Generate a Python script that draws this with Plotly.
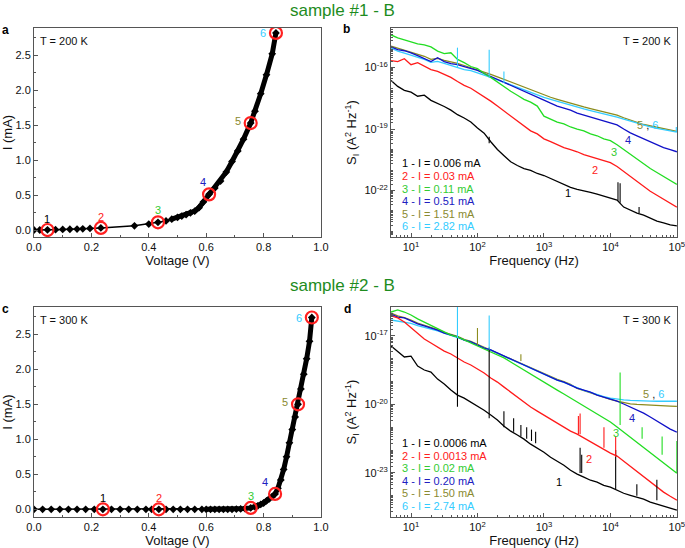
import plotly.graph_objects as go

# ---- I-V data (panel a / c) ----
IV_A_V = [0.0, 0.02, 0.047, 0.075, 0.1, 0.125, 0.15, 0.17, 0.195, 0.233,
          0.35, 0.4, 0.432, 0.46, 0.48, 0.5, 0.515, 0.53, 0.545, 0.56,
          0.575, 0.59, 0.61, 0.63, 0.65, 0.67, 0.69, 0.71, 0.73, 0.755,
          0.77, 0.79, 0.81, 0.83, 0.843]
IV_A_I = [0.0, 0.0, 0.002, 0.005, 0.008, 0.011, 0.014, 0.017, 0.022, 0.03,
          0.06, 0.085, 0.11, 0.13, 0.155, 0.18, 0.2, 0.22, 0.245, 0.27,
          0.32, 0.4, 0.51, 0.6, 0.7, 0.83, 0.98, 1.13, 1.3, 1.53,
          1.7, 1.95, 2.22, 2.52, 2.82]
HL_A_V = [0.047, 0.233, 0.432, 0.61, 0.755, 0.843]
HL_A_I = [0.0, 0.03, 0.11, 0.51, 1.53, 2.82]

IV_C_V = [0.0, 0.03, 0.06, 0.09, 0.12, 0.15, 0.18, 0.21, 0.24, 0.27,
          0.3, 0.33, 0.36, 0.39, 0.41, 0.435, 0.46, 0.485, 0.51, 0.535,
          0.56, 0.585, 0.6, 0.615, 0.63, 0.645, 0.66, 0.675, 0.69, 0.705,
          0.72, 0.735, 0.755, 0.77, 0.78, 0.79, 0.8, 0.81, 0.82, 0.83,
          0.84, 0.85, 0.86, 0.87, 0.88, 0.89, 0.9, 0.91, 0.92, 0.93,
          0.94, 0.95, 0.96, 0.968]
IV_C_I = [0.0, 0.0, 0.0, 0.0, 0.0, 0.0, 0.0, 0.0, 0.0, 0.0,
          0.0, 0.0, 0.0, 0.0, 0.0, 0.0, 0.0, 0.0, 0.0, 0.0,
          0.0, 0.0, 0.0, 0.0, 0.0, 0.0, 0.0, 0.0, 0.0, 0.003,
          0.006, 0.01, 0.02, 0.035, 0.05, 0.07, 0.09, 0.12, 0.15, 0.18,
          0.22, 0.3, 0.42, 0.57, 0.75, 0.95, 1.14, 1.32, 1.5, 1.72,
          1.93, 2.15, 2.4, 2.74]
HL_C_V = [0.24, 0.435, 0.755, 0.84, 0.92, 0.968]
HL_C_I = [0.0, 0.0, 0.02, 0.22, 1.5, 2.74]

# ---- noise spectra, log10(f) grid and log10(S_I) ----
F_LOG = [0.7, 0.8, 0.9, 1.0, 1.1, 1.2, 1.3, 1.4, 1.5, 1.6, 1.7, 1.8, 1.9, 2.0,
         2.1, 2.2, 2.3, 2.4, 2.5, 2.6, 2.7, 2.8, 2.9, 3.0, 3.1, 3.2, 3.3, 3.4,
         3.5, 3.6, 3.7, 3.8, 3.9, 4.0, 4.1, 4.2, 4.3, 4.4, 4.5, 4.6, 4.7, 4.8,
         4.9, 5.0]

B1 = [-16.63, -16.92, -17.11, -17.2, -17.4, -17.35, -17.6, -17.74, -17.9, -18.08,
      -18.3, -18.46, -18.66, -18.95, -19.2, -19.62, -20.0, -20.3, -20.6, -20.78,
      -20.93, -21.02, -21.17, -21.27, -21.41, -21.56, -21.7, -21.85, -21.94, -22.0,
      -22.09, -22.18, -22.28, -22.38, -22.47, -22.81, -22.96, -23.1, -23.2, -23.34,
      -23.49, -23.58, -23.68, -23.73]
B2 = [-15.66, -15.71, -15.57, -15.86, -15.76, -15.95, -16.1, -16.19, -16.34, -16.48,
      -16.68, -16.87, -17.01, -17.21, -17.4, -17.64, -17.88, -18.13, -18.37, -18.61,
      -18.85, -19.09, -19.24, -19.48, -19.62, -19.77, -19.91, -20.01, -20.11, -20.25,
      -20.35, -20.44, -20.54, -20.64, -20.83, -21.07, -21.31, -21.56, -21.8, -22.04,
      -22.23, -22.43, -22.62, -22.81]
B3 = [-14.41, -14.55, -14.65, -14.74, -14.84, -14.89, -14.99, -15.2, -15.32, -15.28,
      -15.6, -15.76, -15.95, -16.05, -16.29, -16.48, -16.72, -16.92, -17.16, -17.35,
      -17.55, -17.69, -17.88, -18.37, -18.51, -18.66, -18.75, -18.9, -19.0, -19.09,
      -19.24, -19.33, -19.48, -19.57, -19.77, -20.01, -20.25, -20.49, -20.69, -20.93,
      -21.12, -21.31, -21.51, -21.7]
B4 = [-14.99, -15.13, -15.18, -15.28, -15.42, -15.57, -15.71, -15.52, -15.71, -15.81,
      -15.86, -15.95, -16.05, -16.14, -16.29, -16.43, -16.58, -16.72, -16.87, -17.01,
      -17.16, -17.3, -17.45, -17.59, -17.74, -17.88, -17.98, -18.08, -18.22, -18.32,
      -18.42, -18.51, -18.61, -18.71, -18.8, -19.0, -19.19, -19.33, -19.48, -19.62,
      -19.77, -19.91, -20.01, -20.11]
B5 = [-14.95, -15.05, -15.15, -15.25, -15.35, -15.45, -15.6, -15.55, -15.65, -15.72,
      -15.8, -15.9, -16.0, -16.1, -16.2, -16.33, -16.45, -16.58, -16.7, -16.83,
      -16.95, -17.08, -17.2, -17.35, -17.45, -17.55, -17.65, -17.75, -17.83, -17.92,
      -18.0, -18.08, -18.15, -18.22, -18.32, -18.45, -18.58, -18.68, -18.78, -18.85,
      -18.92, -19.0, -19.05, -19.12]
B6 = [-15.05, -15.2, -15.3, -15.4, -15.5, -15.6, -15.75, -15.7, -15.8, -15.9,
      -16.0, -16.1, -16.15, -16.25, -16.35, -16.48, -16.6, -16.72, -16.85, -16.97,
      -17.1, -17.22, -17.35, -17.45, -17.55, -17.65, -17.75, -17.85, -17.93, -18.02,
      -18.1, -18.18, -18.25, -18.32, -18.42, -18.52, -18.62, -18.72, -18.82, -18.9,
      -18.97, -19.04, -19.1, -19.15]

D1 = [-17.44, -17.7, -17.92, -17.88, -18.32, -18.49, -18.58, -18.89, -19.1, -19.37,
      -19.59, -19.72, -19.89, -20.07, -20.25, -20.46, -20.68, -20.95, -21.17, -21.34,
      -21.52, -21.74, -21.91, -22.09, -22.31, -22.48, -22.66, -22.88, -23.05, -23.18,
      -23.32, -23.4, -23.54, -23.62, -23.75, -23.89, -23.98, -24.06, -24.15, -24.28,
      -24.37, -24.46, -24.54, -24.63]
D2 = [-16.12, -16.21, -16.39, -16.65, -16.87, -17.13, -17.31, -17.48, -17.66, -17.79,
      -17.96, -18.14, -18.27, -18.45, -18.62, -18.84, -19.02, -19.24, -19.46, -19.68,
      -19.89, -20.11, -20.29, -20.46, -20.64, -20.82, -20.99, -21.17, -21.3, -21.47,
      -21.65, -21.82, -21.96, -22.13, -22.26, -22.48, -22.7, -22.92, -23.14, -23.4,
      -23.62, -23.84, -24.02, -24.19]
D3 = [-15.95, -15.86, -15.95, -16.08, -16.25, -16.39, -16.56, -16.69, -16.82, -16.96,
      -17.04, -17.18, -17.31, -17.44, -17.57, -17.7, -17.83, -17.96, -18.14, -18.32,
      -18.49, -18.67, -18.84, -19.02, -19.19, -19.37, -19.54, -19.72, -19.89, -20.07,
      -20.25, -20.42, -20.6, -20.77, -20.99, -21.21, -21.43, -21.65, -21.87, -22.09,
      -22.35, -22.57, -22.79, -23.01]
D4 = [-16.04, -16.17, -16.21, -16.34, -16.47, -16.56, -16.65, -16.74, -16.87, -16.96,
      -17.04, -17.18, -17.26, -17.39, -17.53, -17.61, -17.75, -17.88, -18.01, -18.14,
      -18.27, -18.4, -18.54, -18.67, -18.8, -18.93, -19.02, -19.15, -19.28, -19.37,
      -19.46, -19.59, -19.68, -19.76, -19.85, -19.98, -20.11, -20.25, -20.38, -20.55,
      -20.73, -20.91, -21.08, -21.21]
D5 = [-16.0, -16.12, -16.2, -16.3, -16.44, -16.53, -16.62, -16.72, -16.84, -16.93,
      -17.02, -17.15, -17.24, -17.37, -17.5, -17.6, -17.73, -17.86, -17.99, -18.12,
      -18.25, -18.38, -18.52, -18.65, -18.78, -18.9, -19.0, -19.12, -19.3, -19.4,
      -19.5, -19.6, -19.7, -19.78, -19.85, -19.92, -19.97, -20.0, -20.02, -20.04,
      -20.05, -20.06, -20.07, -20.08]
D6 = [-16.3, -16.35, -16.4, -16.45, -16.55, -16.62, -16.7, -16.78, -16.88, -16.97,
      -17.06, -17.18, -17.27, -17.4, -17.53, -17.62, -17.76, -17.88, -18.02, -18.15,
      -18.28, -18.41, -18.55, -18.68, -18.8, -18.93, -19.03, -19.15, -19.28, -19.38,
      -19.47, -19.58, -19.66, -19.72, -19.77, -19.8, -19.82, -19.84, -19.85, -19.85,
      -19.86, -19.86, -19.86, -19.86]

# spikes: curve number, frequency (Hz), log10 base, log10 top
SPK_B_N = [6, 6, 6, 1, 1, 1, 1, 6]
SPK_B_F = [50, 150, 250, 150, 13000, 14000, 27000, 98000]
SPK_B_LO = [-16.0, -16.5, -16.75, -19.7, -22.5, -22.6, -23.1, -19.15]
SPK_B_HI = [-15.03, -15.13, -16.19, -19.38, -21.6, -21.65, -22.8, -18.9]

SPK_D_N = [1, 1, 1, 1, 1, 1, 1, 1, 1, 1, 1, 1, 1,
           2, 2, 2, 2, 3, 3, 3, 3, 6, 6, 5, 5]
SPK_D_F = [50, 150, 250, 350, 450, 550, 650, 750, 3500, 3700, 12000, 25000, 50000,
           3300, 3500, 8000, 12000, 14000, 30000, 60000, 100000, 50, 150, 100, 450]
SPK_D_LO = [-20.1, -20.6, -21.0, -21.2, -21.4, -21.5, -21.6, -21.7, -23.0, -23.0, -23.7, -24.0, -24.2,
            -21.3, -21.3, -21.9, -22.3, -20.9, -21.5, -22.2, -23.0, -17.1, -17.6, -17.4, -18.1]
SPK_D_HI = [-17.0, -17.5, -20.3, -20.6, -20.9, -21.0, -21.1, -21.2, -21.9, -22.2, -22.0, -23.5, -23.3,
            -20.5, -20.4, -21.0, -21.4, -18.6, -21.0, -21.4, -21.6, -15.7, -16.1, -16.65, -17.8]

LEGEND_B = ['1 - I = 0.006 mA', '2 - I = 0.03 mA', '3 - I = 0.11 mA',
            '4 - I = 0.51 mA', '5 - I = 1.51 mA', '6 - I = 2.82 mA']
LEGEND_D = ['1 - I = 0.0006 mA', '2 - I = 0.0013 mA', '3 - I = 0.02 mA',
            '4 - I = 0.20 mA', '5 - I = 1.50 mA', '6 - I = 2.74 mA']

# where the curve numbers sit (log10 f, log10 S)
TAG_B = [(3.36, -22.1), (3.77, -21.0), (4.05, -20.1), (4.27, -19.55), (4.56, -18.8)]
TAG_D = [(3.23, -23.4), (3.68, -22.4), (4.08, -21.25), (4.32, -20.6), (4.65, -19.55)]

COLORS = {1: '#000000', 2: '#ff1a1a', 3: '#22dd22', 4: '#1010c8', 5: '#8c8c1e', 6: '#33ccff'}
TXT_COLORS = {1: '#000000', 2: '#ff2020', 3: '#33cc33', 4: '#2020c0', 5: '#8a8a30', 6: '#33ccff'}
FONT = 'Liberation Sans, Arial, sans-serif'

W, H = 685, 548


def px_x(p):
    return p / W


def px_y(p):
    return 1 - p / H


fig = go.Figure()

# ---------- I-V panels ----------
def add_iv(xa, ya, V, I, hv, hi, dense_from):
    fig.add_trace(go.Scatter(x=V, y=I, mode='lines+markers', xaxis=xa, yaxis=ya,
                             line=dict(color='black', width=1.5),
                             marker=dict(symbol='diamond', size=6, color='black'),
                             showlegend=False))
    dv = [v for v in V if v >= dense_from]
    di = [i for v, i in zip(V, I) if v >= dense_from]
    fig.add_trace(go.Scatter(x=dv, y=di, mode='lines', xaxis=xa, yaxis=ya,
                             line=dict(color='black', width=5), showlegend=False))
    fig.add_trace(go.Scatter(x=hv, y=hi, mode='markers', xaxis=xa, yaxis=ya,
                             marker=dict(symbol='circle-open', size=12, color='#ff2020',
                                         line=dict(width=2.2, color='#ff2020')),
                             showlegend=False))
    fig.add_trace(go.Scatter(x=hv, y=hi, mode='markers', xaxis=xa, yaxis=ya,
                             marker=dict(symbol='circle', size=4, color='black'),
                             showlegend=False))


add_iv('x', 'y', IV_A_V, IV_A_I, HL_A_V, HL_A_I, 0.48)
add_iv('x3', 'y3', IV_C_V, IV_C_I, HL_C_V, HL_C_I, 0.6)

# label offsets (px) for numbers next to highlighted points
OFF_A = [(0, 11), (0, 11), (0, 12), (-6, 12), (-13, 2), (-13, 0)]
OFF_C = [(0, 11), (0, 11), (0, 12), (-10, 12), (-13, 2), (-13, 0)]
for xa, ya, hv, hi, offs in [('x', 'y', HL_A_V, HL_A_I, OFF_A), ('x3', 'y3', HL_C_V, HL_C_I, OFF_C)]:
    for k, (v, i) in enumerate(zip(hv, hi)):
        fig.add_annotation(x=v, y=i, xref=xa, yref=ya, text=str(k + 1), showarrow=False,
                           xshift=offs[k][0], yshift=offs[k][1],
                           font=dict(size=11, color=TXT_COLORS[k + 1], family=FONT))


# ---------- noise panels ----------
def add_noise(xa, ya, curves, order, spk):
    f = [10 ** v for v in F_LOG]
    for n in order:
        fig.add_trace(go.Scatter(x=f, y=[10 ** v for v in curves[n - 1]], mode='lines',
                                 xaxis=xa, yaxis=ya, line=dict(color=COLORS[n], width=1.3),
                                 showlegend=False))
    nums, freqs, lo, hi = spk
    for n in sorted(set(nums)):
        xs, ys = [], []
        for m, fr, a, b in zip(nums, freqs, lo, hi):
            if m == n:
                xs += [fr, fr, None]
                ys += [10 ** a, 10 ** b, None]
        fig.add_trace(go.Scatter(x=xs, y=ys, mode='lines', xaxis=xa, yaxis=ya,
                                 line=dict(color=COLORS[n], width=1.1), showlegend=False))


add_noise('x2', 'y2', [B1, B2, B3, B4, B5, B6], [5, 6, 4, 3, 2, 1],
          (SPK_B_N, SPK_B_F, SPK_B_LO, SPK_B_HI))
add_noise('x4', 'y4', [D1, D2, D3, D4, D5, D6], [5, 6, 4, 3, 2, 1],
          (SPK_D_N, SPK_D_F, SPK_D_LO, SPK_D_HI))

for xa, ya, legend, tags in [('x2', 'y2', LEGEND_B, TAG_B), ('x4', 'y4', LEGEND_D, TAG_D)]:
    for k, txt in enumerate(legend):
        fig.add_annotation(x=0.03, y=0.352 - k * 0.06, xref=xa + ' domain', yref=ya + ' domain',
                           text=txt, showarrow=False, xanchor='left', yanchor='middle',
                           font=dict(size=11, color=TXT_COLORS[k + 1], family=FONT))
    for k, (lx, ly) in enumerate(tags):
        if k < 4:
            t = str(k + 1)
            col = TXT_COLORS[k + 1]
        else:
            t = ('<span style="color:%s">5</span> , <span style="color:%s">6</span>'
                 % (TXT_COLORS[5], TXT_COLORS[6]))
            col = '#111111'
        fig.add_annotation(x=lx, y=ly, xref=xa, yref=ya, text=t, showarrow=False,
                           font=dict(size=11, color=col, family=FONT))

# temperature labels
for xa, ya, t, xpos, anc in [('x', 'y', 'T = 200 K', 0.015, 'left'), ('x2', 'y2', 'T = 200 K', 0.985, 'right'),
                             ('x3', 'y3', 'T = 300 K', 0.015, 'left'), ('x4', 'y4', 'T = 300 K', 0.985, 'right')]:
    fig.add_annotation(x=xpos, y=0.975, xref=xa + ' domain', yref=ya + ' domain', text=t,
                       showarrow=False, xanchor=anc, yanchor='top',
                       font=dict(size=11, color='#111111', family=FONT))

# titles and panel letters
for t, yy in [('sample #1 - B', 10), ('sample #2 - B', 285)]:
    fig.add_annotation(x=0.5, y=px_y(yy), xref='paper', yref='paper', text=t, showarrow=False,
                       xanchor='center', yanchor='middle',
                       font=dict(size=17, color='#1e8c1e', family=FONT))
for t, xx, yy in [('a', 5, 30), ('b', 346, 29), ('c', 5, 309), ('d', 347, 309)]:
    fig.add_annotation(x=px_x(xx), y=px_y(yy), xref='paper', yref='paper', text='<b>%s</b>' % t,
                       showarrow=False, xanchor='center', yanchor='middle',
                       font=dict(size=12, color='black', family=FONT))

# ---------- axes ----------
axis_common = dict(showline=True, mirror=True, linecolor='#555555', linewidth=1,
                   showgrid=False, zeroline=False, ticks='inside', ticklen=4, automargin=False,
                   ticklabeloverflow='allow',
                   tickcolor='#555555', tickfont=dict(size=11, color='#111111', family=FONT),
                   title_font=dict(size=13, color='#111111', family=FONT))

log_minor_x = [m * 10 ** k for k in range(0, 5) for m in range(2, 10) if m * 10 ** k >= 5]
log_minor_y = [m * 10.0 ** k for k in range(-26, -13) for m in range(1, 10)]

XA = [px_x(34), px_x(321)]
XB = [px_x(391), px_x(677)]
YTOP = [px_y(237), px_y(28)]
YBOT = [px_y(517), px_y(307)]

lin_x = dict(axis_common, range=[0, 1.0], dtick=0.2, tickformat='.1f',
             minor=dict(dtick=0.1, ticks='inside', ticklen=2, tickcolor='#555555'),
             title=dict(text='Voltage (V)', standoff=2))
lin_y = dict(axis_common, dtick=0.5, tickformat='.1f',
             minor=dict(dtick=0.25, ticks='inside', ticklen=2, tickcolor='#555555'),
             title=dict(text='I (mA)', standoff=6))
log_x = dict(axis_common, type='log', range=[0.699, 5.002],
             tickvals=[10, 100, 1000, 10000, 100000],
             ticktext=['10<sup>1</sup>', '10<sup>2</sup>', '10<sup>3</sup>', '10<sup>4</sup>', '10<sup>5</sup>'],
             minor=dict(tickmode='array', tickvals=log_minor_x, ticks='inside', ticklen=2, tickcolor='#555555'),
             title=dict(text='Frequency (Hz)', standoff=2))
log_y = dict(axis_common, type='log',
             minor=dict(tickmode='array', tickvals=log_minor_y, ticks='inside', ticklen=2, tickcolor='#555555'),
             title=dict(text='S<sub>I</sub> (A<sup>2</sup> Hz<sup>-1</sup>)', standoff=4))

fig.update_layout(
    width=W, height=H,
    margin=dict(l=0, r=0, t=0, b=0, autoexpand=False),
    paper_bgcolor='white', plot_bgcolor='white',
    font=dict(family=FONT, size=11, color='#111111'),
    showlegend=False,
    xaxis=dict(lin_x, domain=XA, anchor='y'),
    yaxis=dict(lin_y, domain=YTOP, anchor='x', range=[-0.1, 2.89]),
    xaxis2=dict(log_x, domain=XB, anchor='y2'),
    yaxis2=dict(log_y, domain=YTOP, anchor='x2', range=[-24.27, -14.07],
                tickvals=[1e-16, 1e-19, 1e-22],
                ticktext=['10<sup>-16</sup>', '10<sup>-19</sup>', '10<sup>-22</sup>']),
    xaxis3=dict(lin_x, domain=XA, anchor='y3'),
    yaxis3=dict(lin_y, domain=YBOT, anchor='x3', range=[-0.11, 2.89]),
    xaxis4=dict(log_x, domain=XB, anchor='y4'),
    yaxis4=dict(log_y, domain=YBOT, anchor='x4', range=[-24.93, -15.73],
                tickvals=[1e-17, 1e-20, 1e-23],
                ticktext=['10<sup>-17</sup>', '10<sup>-20</sup>', '10<sup>-23</sup>']),
)

# the page body has a default 8px margin; remove it so the figure fills the window
fig.write_html("out.html", config={'displayModeBar': False},
               post_script="document.body.style.margin='0';")
